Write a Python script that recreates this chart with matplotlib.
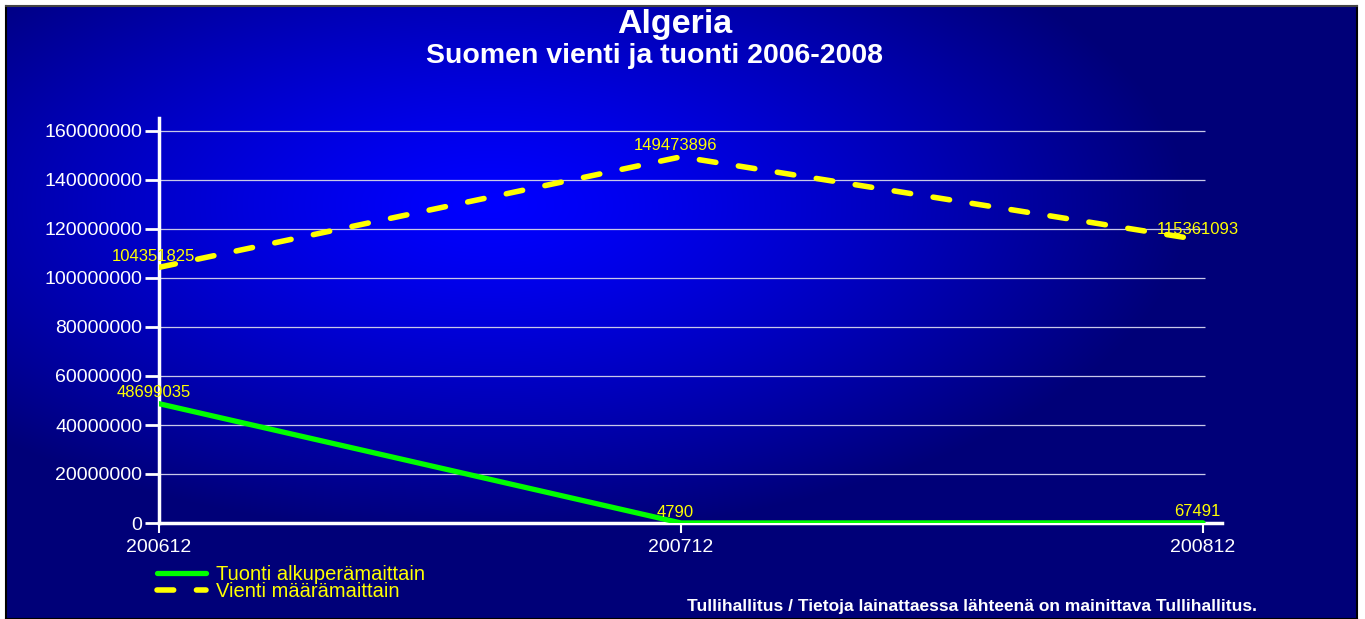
import numpy as np
import matplotlib.pyplot as plt

plt.rcParams['font.family'] = ['Liberation Sans', 'DejaVu Sans']

# ------ DATA ------
periods = ['200612', '200712', '200812']
tuonti = [48699035, 4790, 67491]          # Tuonti alkuperämaittain
vienti = [104351825, 149473896, 115361093]  # Vienti määrämaittain
yticks = [0, 20000000, 40000000, 60000000, 80000000,
          100000000, 120000000, 140000000, 160000000]

W, H = 1365, 619
fig = plt.figure(figsize=(W / 100, H / 100), dpi=100)
fig.patch.set_facecolor('white')

# background panel with radial blue gradient
fx0, fy0, fx1, fy1 = 6, 6, 1357, 619
bg = fig.add_axes([fx0 / W, 1 - fy1 / H, (fx1 - fx0) / W, (fy1 - fy0) / H])
gy, gx = np.mgrid[fy0:fy1, fx0:fx1]
r = np.sqrt(((gx - 490) / 700.0) ** 2 + ((gy - 205) / 330.0) ** 2)
r = np.clip(r, 0, 1)
blue = (255 - 135 * r ** 1.3) / 255.0
img = np.zeros(gx.shape + (3,))
img[..., 2] = blue
bg.imshow(img, aspect='auto', interpolation='bilinear')
bg.set_xticks([])
bg.set_yticks([])
for s in bg.spines.values():
    s.set_color('black')
    s.set_linewidth(1.5)
bg.spines['top'].set_color('#444444')

# main chart
x = np.arange(len(periods))
ymax = 160000000 * (523 - 118) / 392.0
xmax = 2 + (1222 - 1203) / 522.0
ax = fig.add_axes([159 / W, 1 - 523 / H, (1222 - 159) / W, (523 - 118) / H])
ax.set_facecolor('none')
ax.set_xlim(0, xmax)
ax.set_ylim(0, ymax)

for yv in yticks[1:]:
    ax.hlines(yv, 0, 2.004, color='#c8c8e8', lw=0.9, zorder=1)

ax.plot(x, tuonti, color='#00ff00', lw=3.8, solid_capstyle='round',
        label='Tuonti alkuperämaittain', zorder=3)
ax.plot(x, vienti, color='#ffff00', lw=4, dashes=(3, 4.1),
        dash_capstyle='round', label='Vienti määrämaittain', zorder=3)

for xi, v in zip(x, tuonti):
    ax.annotate(str(v), (xi, v), xytext=(-4, 2.5), textcoords='offset points',
                ha='center', va='bottom', color='#ffff00', fontsize=12)
for xi, v in zip(x, vienti):
    ax.annotate(str(v), (xi, v), xytext=(-4, 2.5), textcoords='offset points',
                ha='center', va='bottom', color='#ffff00', fontsize=12)

for s in ['top', 'right']:
    ax.spines[s].set_visible(False)
for s in ['left', 'bottom']:
    ax.spines[s].set_color('white')
    ax.spines[s].set_linewidth(2.5)

ax.set_yticks(yticks)
ax.set_yticklabels([str(v) for v in yticks])
ax.set_xticks(x)
ax.set_xticklabels(periods)
ax.tick_params(axis='y', colors='white', labelsize=14, length=10, width=2, pad=2)
ax.tick_params(axis='x', colors='white', labelsize=14, length=7, width=1.5, pad=4.5)

leg = ax.legend(loc='upper left', bbox_to_anchor=(-0.009, -0.085), frameon=False,
                fontsize=14.5, labelcolor='#ffff00', handlelength=2.4,
                handletextpad=0.5, labelspacing=-0.1, borderaxespad=0)

fig.text(675 / W, 1 - 24 / H, 'Algeria', color='white', fontsize=24.5,
         fontweight='bold', ha='center', va='center')
fig.text(655 / W, 1 - 56 / H, 'Suomen vienti ja tuonti 2006-2008', color='white',
         fontsize=20.5, fontweight='bold', ha='center', va='center')
fig.text(1257 / W, 1 - 607 / H,
         'Tullihallitus / Tietoja lainattaessa lähteenä on mainittava Tullihallitus.',
         color='white', fontsize=12.5, fontweight='bold', ha='right', va='center')

fig.savefig('out.png', dpi=100, facecolor=fig.get_facecolor())
